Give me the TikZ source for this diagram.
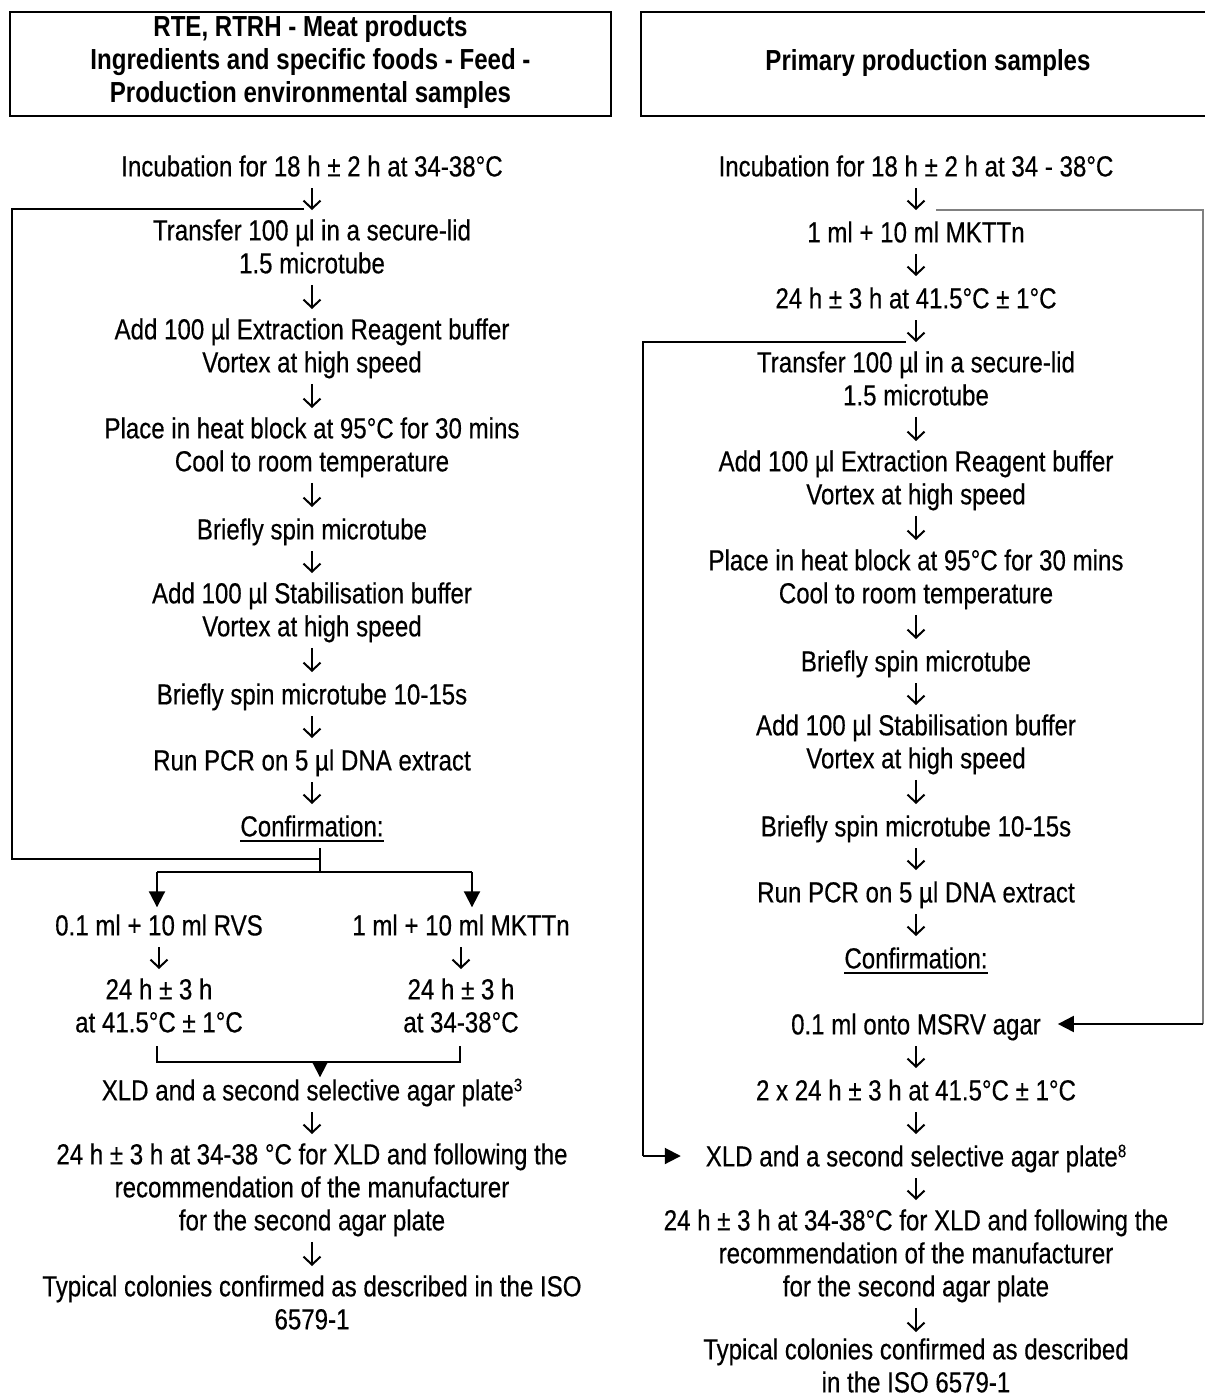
\documentclass[tikz,border=0pt]{standalone}
\usepackage{fontspec}
\setmainfont{Liberation Sans}[FakeStretch=0.83, UprightFeatures={FakeBold=0.4}]
\newcommand{\myul}[1]{\setbox0\hbox{#1}\rlap{\rule[-2.6pt]{\wd0}{1pt}}\box0}
\newcommand{\smsup}[1]{\raisebox{4.6pt}{\fontsize{9pt}{9pt}\selectfont #1}}
\usetikzlibrary{arrows.meta,calc}
\begin{document}
\begin{tikzpicture}[x=0.5pt,y=-0.5pt,
  every node/.style={inner sep=0pt, outer sep=0pt},
  txt/.style={anchor=north, align=center, font=\fontsize{14.5pt}{16.5pt}\selectfont,
    execute at begin node=\strut, execute at end node=\strut},
  hdr/.style={draw, line width=0.8pt, align=center, font=\fontsize{14.5pt}{16.5pt}\selectfont\bfseries,
    execute at begin node=\strut, execute at end node=\strut},
  flow/.style={line width=1pt, -{Straight Barb[length=4pt,width=8.5pt]}, shorten <=0.85pt, shorten >=4.65pt},
  ln/.style={line width=1pt},
  tri/.style={line width=1pt, -{Triangle[length=8pt,width=8pt]}},
]
\useasboundingbox (0,0) rectangle (1205,1398);

% headers
\node[hdr, minimum width=300.5pt, minimum height=52pt] (H1) at (310.5,64)
  {RTE, RTRH - Meat products\\Ingredients and specific foods - Feed -\\Production environmental samples};
\node[hdr, minimum width=287pt, minimum height=52pt] (H2) at (928,64)
  {Primary production samples};

% ---------------- left column ----------------
\node[txt] (L0) at (312,153.3) {Incubation for 18 h ± 2 h at 34-38°C};
\node[txt] (L1) at (312,219.3) {Transfer 100 µl in a secure-lid\\1.5 microtube};
\node[txt] (L2) at (312,318.3) {Add 100 µl Extraction Reagent buffer\\Vortex at high speed};
\node[txt] (L3) at (312,417.3) {Place in heat block at 95°C for 30 mins\\Cool to room temperature};
\node[txt] (L4) at (312,516.3) {Briefly spin microtube};
\node[txt] (L5) at (312,582.3) {Add 100 µl Stabilisation buffer\\Vortex at high speed};
\node[txt] (L6) at (312,681.3) {Briefly spin microtube 10-15s};
\node[txt] (L7) at (312,747.3) {Run PCR on 5 µl DNA extract};
\node[txt] (L8) at (312,813.3) {\myul{Confirmation:}};
\node[txt] (LA) at (159,912.3) {0.1 ml + 10 ml RVS};
\node[txt] (LB) at (461,912.3) {1 ml + 10 ml MKTTn};
\node[txt] (LA2) at (159,978.3) {24 h ± 3 h\\at 41.5°C ± 1°C};
\node[txt] (LB2) at (461,978.3) {24 h ± 3 h\\at 34-38°C};
\node[txt] (L9) at (312,1077.3) {XLD and a second selective agar plate\smsup{3}};
\node[txt] (L10) at (312,1143.3) {24 h ± 3 h at 34-38 °C for XLD and following the\\recommendation of the manufacturer\\for the second agar plate};
\node[txt] (L11) at (312,1275.3) {Typical colonies confirmed as described in the ISO\\6579-1};

\draw[flow] (L0.south) -- (L1.north);
\draw[flow] (L1.south) -- (L2.north);
\draw[flow] (L2.south) -- (L3.north);
\draw[flow] (L3.south) -- (L4.north);
\draw[flow] (L4.south) -- (L5.north);
\draw[flow] (L5.south) -- (L6.north);
\draw[flow] (L6.south) -- (L7.north);
\draw[flow] (L7.south) -- (L8.north);
\draw[flow] (LA.south) -- (LA2.north);
\draw[flow] (LB.south) -- (LB2.north);
\draw[flow] (L9.south) -- (L10.north);
\draw[flow] (L10.south) -- (L11.north);

% left bypass line and branch
\coordinate (la) at (304,209);
\coordinate (lb) at (12,209);
\coordinate (lc) at (12,859);
\coordinate (ld) at (320,859);
\coordinate (tkA) at (320,848);
\coordinate (tkB) at (320,872);
\coordinate (bL) at (157,872);
\coordinate (bR) at (472,872);
\draw[ln] (la) -- (lb) -- (lc) -- (ld);
\draw[ln] (tkA) -- (tkB);
\draw[ln] (bL) -- (bR);
\draw[tri, shorten >=2.5pt] (bL) -- (bL |- LA.north);
\draw[tri, shorten >=2.5pt] (bR) -- (bR |- LB.north);

% bracket
\coordinate (kA) at (157,1046);
\coordinate (kB) at (157,1062);
\coordinate (kC) at (460,1062);
\coordinate (kD) at (460,1046);
\coordinate (kM) at (320,1062);
\draw[ln] (kA) -- (kB) -- (kC) -- (kD);
\draw[tri] (kM) -- (kM |- L9.north);

% ---------------- right column ----------------
\node[txt] (R0) at (916,153.3) {Incubation for 18 h ± 2 h at 34 - 38°C};
\node[txt] (R1) at (916,219.3) {1 ml + 10 ml MKTTn};
\node[txt] (R2) at (916,285.3) {24 h ± 3 h at 41.5°C ± 1°C};
\node[txt] (R3) at (916,351.3) {Transfer 100 µl in a secure-lid\\1.5 microtube};
\node[txt] (R4) at (916,450.3) {Add 100 µl Extraction Reagent buffer\\Vortex at high speed};
\node[txt] (R5) at (916,549.3) {Place in heat block at 95°C for 30 mins\\Cool to room temperature};
\node[txt] (R6) at (916,648.3) {Briefly spin microtube};
\node[txt] (R7) at (916,714.3) {Add 100 µl Stabilisation buffer\\Vortex at high speed};
\node[txt] (R8) at (916,813.3) {Briefly spin microtube 10-15s};
\node[txt] (R9) at (916,879.3) {Run PCR on 5 µl DNA extract};
\node[txt] (R10) at (916,945.3) {\myul{Confirmation:}};
\node[txt] (R11) at (916,1011.3) {0.1 ml onto MSRV agar};
\node[txt] (R12) at (916,1077.3) {2 x 24 h ± 3 h at 41.5°C ± 1°C};
\node[txt] (R13) at (916,1143.3) {XLD and a second selective agar plate\smsup{8}};
\node[txt] (R14) at (916,1209.3) {24 h ± 3 h at 34-38°C for XLD and following the\\recommendation of the manufacturer\\for the second agar plate};
\node[txt, execute at end node={}] (R15) at (916,1338.3) {Typical colonies confirmed as described\\in the ISO 6579-1};

\draw[flow] (R0.south) -- (R1.north);
\draw[flow] (R1.south) -- (R2.north);
\draw[flow] (R2.south) -- (R3.north);
\draw[flow] (R3.south) -- (R4.north);
\draw[flow] (R4.south) -- (R5.north);
\draw[flow] (R5.south) -- (R6.north);
\draw[flow] (R6.south) -- (R7.north);
\draw[flow] (R7.south) -- (R8.north);
\draw[flow] (R8.south) -- (R9.north);
\draw[flow] (R9.south) -- (R10.north);
\draw[flow] (R11.south) -- (R12.north);
\draw[flow] (R12.south) -- (R13.north);
\draw[flow] (R13.south) -- (R14.north);
\draw[flow, shorten >=3.15pt] (R14.south) -- (R15.north);

% right: gray line to MSRV
\coordinate (ga) at (936,210);
\coordinate (gb) at (1203,210);
\coordinate (gc) at (1203,1024);
\draw[ln, draw=black!50] (ga) -- (gb) -- (gc);
\draw[tri, shorten >=8.5pt] (gc) -- (R11.east |- gc);

% right: left bypass to XLD
\coordinate (ra) at (906,342);
\coordinate (rb) at (643,342);
\coordinate (rc) at (643,1156);
\draw[ln] (ra) -- (rb) -- (rc);
\draw[tri, shorten >=12.5pt] (rc) -- (R13.west |- rc);
\end{tikzpicture}
\end{document}
